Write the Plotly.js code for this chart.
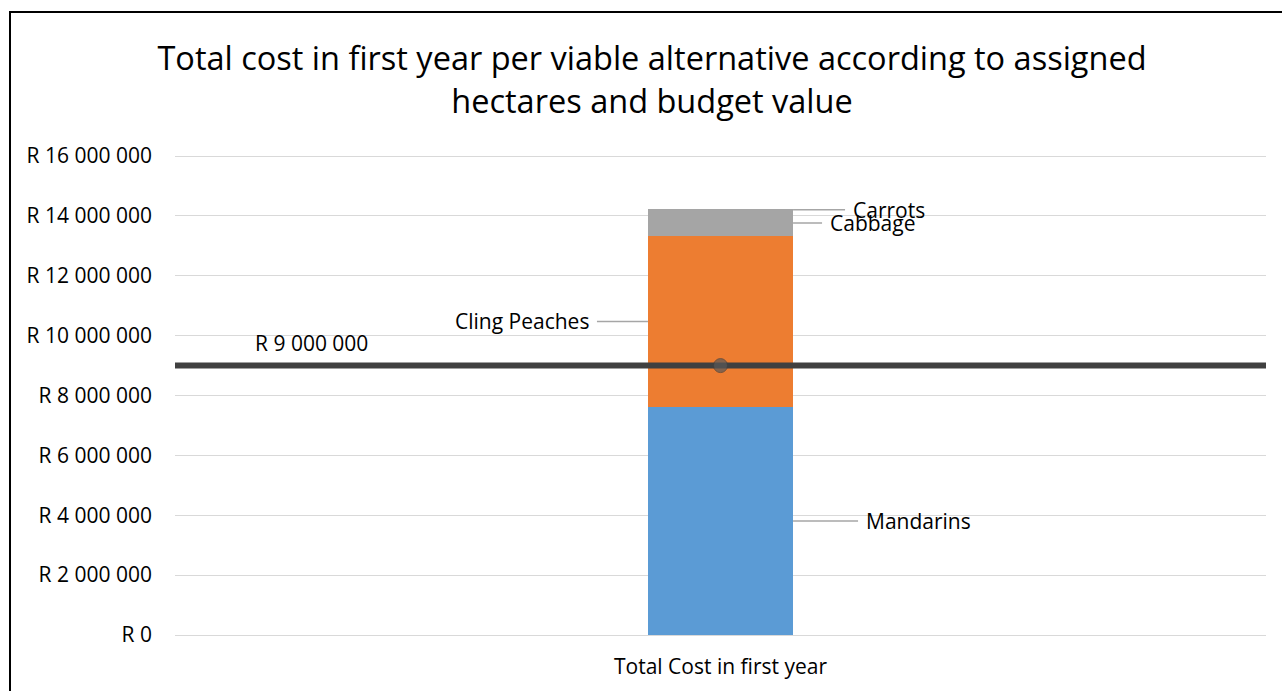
<!DOCTYPE html>
<html>
<head>
<meta charset="utf-8">
<script src="https://cdn.plot.ly/plotly-3.0.1.min.js"></script>
<style>
  html, body { margin: 0; padding: 0; background: #fff; overflow: hidden; }
  #frame { position: absolute; left: 9px; top: 11px; width: 1400px; height: 800px;
           border-left: 2px solid #000; border-top: 2px solid #000; pointer-events: none; z-index: 5; }
  #chart { position: absolute; left: 0; top: 0; width: 1282px; height: 691px; }
</style>
</head>
<body>
<div id="chart"></div>
<div id="frame"></div>
<script>
// Cost components of the first year, stacked in one column
const category = ["Total Cost in first year"];
const crops = ["Mandarins", "Cling Peaches", "Cabbage", "Carrots"];
const costs = [7620000, 5710000, 860000, 40000];
const cropColors = ["#5b9bd5", "#ed7d31", "#a5a5a5", "#a5a5a5"];

// Available budget, drawn as a horizontal reference line
const budget = 9000000;

// Axis ticks
const tickValues = [0, 2000000, 4000000, 6000000, 8000000, 10000000, 12000000, 14000000, 16000000];
const tickLabels = ["R 0", "R 2 000 000", "R 4 000 000", "R 6 000 000", "R 8 000 000",
                    "R 10 000 000", "R 12 000 000", "R 14 000 000", "R 16 000 000"];

const FONT = "'Open Sans', 'Noto Sans', sans-serif";
const TEXT_SIZE = 21;
const BAR_WIDTH = 0.133;

const traces = crops.map((name, i) => ({
  type: "bar",
  name: name,
  x: category,
  y: [costs[i]],
  width: BAR_WIDTH,
  marker: { color: cropColors[i], line: { width: 0 } },
  hoverinfo: "name+y"
}));

// Budget line spanning the full plot width, with a point in the middle
traces.push({
  type: "scatter",
  mode: "lines+markers",
  x: [0, 0.5, 1],
  y: [budget, budget, budget],
  xaxis: "x2",
  yaxis: "y",
  line: { color: "#404040", width: 6 },
  marker: { color: "#595959", size: [0, 14, 0] },
  hoverinfo: "y",
  showlegend: false
});

function rand(v) {
  return "R " + Math.round(v).toString().replace(/\B(?=(\d{3})+(?!\d))/g, " ");
}

// Segment mid-points for the leader-line labels
const mids = [];
let base = 0;
costs.forEach(c => { mids.push(base + c / 2); base += c; });

const labelSpecs = [
  { side: 1, ax: 65 },   // Mandarins
  { side: -1, ax: -51 }, // Cling Peaches
  { side: 1, ax: 29 },   // Cabbage
  { side: 1, ax: 52 }    // Carrots
];

const annotations = crops.map((name, i) => ({
  x: labelSpecs[i].side * BAR_WIDTH / 2,
  y: mids[i],
  xref: "x",
  yref: "y",
  text: name,
  showarrow: true,
  arrowhead: 0,
  arrowwidth: 1.5,
  arrowcolor: "#a6a6a6",
  ax: labelSpecs[i].ax,
  ay: 0,
  borderpad: 7,
  xanchor: labelSpecs[i].side > 0 ? "left" : "right",
  yanchor: "middle",
  font: { family: FONT, size: TEXT_SIZE, color: "#000" }
}));

annotations.push({
  x: 0.125,
  y: budget,
  xref: "x2",
  yref: "y",
  yshift: 23,
  text: rand(budget),
  showarrow: false,
  font: { family: FONT, size: TEXT_SIZE, color: "#000" }
});

const layout = {
  width: 1282,
  height: 691,
  paper_bgcolor: "#fff",
  plot_bgcolor: "#fff",
  margin: { l: 175, r: 16, t: 155, b: 56 },
  barmode: "stack",
  showlegend: false,
  title: {
    text: "Total cost in first year per viable alternative according to assigned<br>hectares and budget value",
    x: 0.5086,
    xref: "container",
    xanchor: "center",
    y: 0.898,
    yref: "container",
    yanchor: "middle",
    font: { family: FONT, size: 32.5, color: "#000" }
  },
  xaxis: {
    type: "category",
    range: [-0.5, 0.5],
    showgrid: false,
    showline: false,
    zeroline: false,
    ticks: "",
    ticklabelstandoff: 17,
    tickfont: { family: FONT, size: TEXT_SIZE, color: "#000" },
    fixedrange: true
  },
  xaxis2: {
    overlaying: "x",
    range: [0, 1],
    visible: false,
    fixedrange: true
  },
  yaxis: {
    range: [0, 16035000],
    tickvals: tickValues,
    ticktext: tickLabels,
    showgrid: true,
    gridcolor: "#d9d9d9",
    gridwidth: 1,
    zeroline: true,
    zerolinecolor: "#d9d9d9",
    zerolinewidth: 1,
    showline: false,
    ticks: "",
    ticklabelstandoff: 22,
    tickfont: { family: FONT, size: TEXT_SIZE, color: "#000" },
    fixedrange: true
  },
  annotations: annotations
};

Plotly.newPlot("chart", traces, layout, { displayModeBar: false });
</script>
</body>
</html>
